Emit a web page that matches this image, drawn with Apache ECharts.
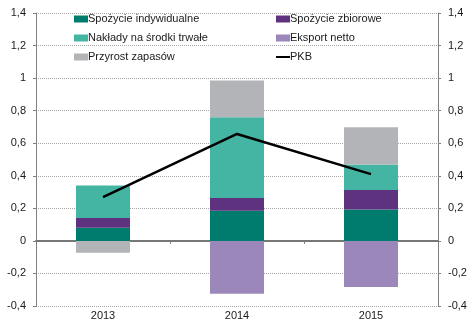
<!DOCTYPE html>
<html>
<head>
<meta charset="utf-8">
<script src="https://cdn.jsdelivr.net/npm/echarts@6/dist/echarts.min.js"></script>
<style>
html,body{margin:0;padding:0;background:#fff;}
#chart{width:471px;height:330px;}
</style>
</head>
<body>
<div id="chart"></div>
<script>
const categories = ['2013', '2014', '2015'];
const spozycieIndywidualne = [0.08, 0.185, 0.193];
const spozycieZbiorowe = [0.06, 0.078, 0.119];
const naklady = [0.20, 0.497, 0.157];
const eksportNetto = [0, -0.325, -0.283];
const przyrostZapasow = [-0.073, 0.226, 0.229];
const pkb = [0.269, 0.657, 0.41];
const yTicks = { min: -0.4, max: 1.4, interval: 0.2 };

const fmt = v => String(Math.round(v * 10) / 10).replace('.', ',');
const font = 'Liberation Sans, Arial, sans-serif';
const txt = { fontFamily: font, fontSize: 11, color: '#1a1a1a' };

const chart = echarts.init(document.getElementById('chart'), null, { renderer: 'canvas' });

const barBase = { type: 'bar', stack: 'total', barWidth: 54 };
const legendBase = {
  orient: 'vertical', itemWidth: 14, itemHeight: 7, itemGap: 7, padding: 0,
  icon: 'rect',
  textStyle: Object.assign({}, txt, { lineHeight: 12, padding: [0, 0, 0, -5] })
};
const lineIcon = 'path://M0,0L0.01,0M0,2.4L14,2.4L14,4.6L0,4.6ZM13.99,7L14,7';

chart.setOption({
  animation: false,
  backgroundColor: '#fff',
  grid: { left: 36, right: 33, top: 13, bottom: 24 },
  legend: [
    Object.assign({}, legendBase, {
      left: 74, top: 13,
      data: ['Spożycie indywidualne', 'Nakłady na środki trwałe', 'Przyrost zapasów']
    }),
    Object.assign({}, legendBase, {
      left: 276, top: 13,
      data: ['Spożycie zbiorowe', 'Eksport netto', { name: 'PKB', icon: lineIcon, itemStyle: { color: '#000' } }]
    })
  ],
  xAxis: {
    type: 'category',
    data: categories,
    axisLine: { onZero: true, lineStyle: { color: '#777', width: 2 } },
    axisTick: { show: true, length: 3, lineStyle: { color: '#777' } },
    axisLabel: { ...txt, margin: 4 },
    position: 'bottom'
  },
  yAxis: [
    {
      type: 'value', min: yTicks.min, max: yTicks.max, interval: yTicks.interval,
      axisLine: { show: true, lineStyle: { color: '#808080' } },
      axisTick: { show: true, length: 3, lineStyle: { color: '#808080' } },
      axisLabel: { ...txt, margin: 10, formatter: fmt },
      splitLine: { show: true, lineStyle: { color: '#a6a6a6', type: [1, 1], width: 1 } }
    },
    {
      type: 'value', min: yTicks.min, max: yTicks.max, interval: yTicks.interval,
      position: 'right',
      axisLine: { show: true, lineStyle: { color: '#808080' } },
      axisTick: { show: true, length: 3, lineStyle: { color: '#808080' } },
      axisLabel: { ...txt, margin: 10, formatter: fmt },
      splitLine: { show: false }
    }
  ],
  series: [
    { ...barBase, name: 'Spożycie indywidualne', data: spozycieIndywidualne, itemStyle: { color: '#007C6F' } },
    { ...barBase, name: 'Spożycie zbiorowe', data: spozycieZbiorowe, itemStyle: { color: '#5E327E' } },
    { ...barBase, name: 'Nakłady na środki trwałe', data: naklady, itemStyle: { color: '#45B5A3' } },
    { ...barBase, name: 'Eksport netto', data: eksportNetto, itemStyle: { color: '#9B87BA' } },
    { ...barBase, name: 'Przyrost zapasów', data: przyrostZapasow, itemStyle: { color: '#B2B4B8' } },
    {
      type: 'line', name: 'PKB', data: pkb, symbol: 'none', z: 10,
      lineStyle: { color: '#000', width: 2.5 }, itemStyle: { color: '#000' }
    }
  ]
});
</script>
</body>
</html>
